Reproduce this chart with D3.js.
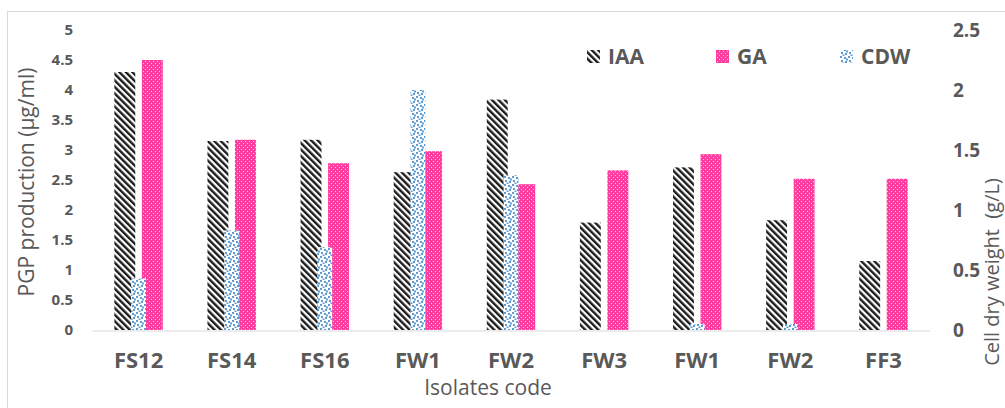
<!DOCTYPE html>
<html>
<head>
<meta charset="utf-8">
<script src="https://cdn.jsdelivr.net/npm/d3@7"></script>
<style>
  html, body { margin: 0; padding: 0; background: #fff; }
  svg { display: block; font-family: "Open Sans", "DejaVu Sans", sans-serif; }
</style>
</head>
<body>
<svg id="chart" width="1005" height="408"></svg>
<script>
const categories = ["FS12", "FS14", "FS16", "FW1", "FW2", "FW3", "FW1", "FW2", "FF3"];
const iaaValues = [4.3, 3.15, 3.17, 2.63, 3.84, 1.79, 2.71, 1.83, 1.15];
const gaValues  = [4.5, 3.17, 2.78, 2.98, 2.43, 2.66, 2.93, 2.52, 2.52];
const cdwValues = [0.43, 0.83, 0.69, 2.0, 1.29, 0, 0.05, 0.05, 0];
const leftTicks = [0, 0.5, 1, 1.5, 2, 2.5, 3, 3.5, 4, 4.5, 5];
const rightTicks = [0, 0.5, 1, 1.5, 2, 2.5];
const seriesNames = ["IAA", "GA", "CDW"];

const svg = d3.select("#chart");
const textColor = "#595959";

// chart frame
svg.append("rect").attr("x", 7.5).attr("y", 11.5).attr("width", 1100).attr("height", 500)
  .attr("fill", "none").attr("stroke", "#d9d9d9");

// patterns
const defs = svg.append("defs");
const pIAA = defs.append("pattern").attr("id", "pIAA").attr("patternUnits", "userSpaceOnUse")
  .attr("width", 4.6).attr("height", 4.6).attr("patternTransform", "rotate(-45)");
pIAA.append("rect").attr("width", 4.6).attr("height", 4.6).attr("fill", "#fff");
pIAA.append("rect").attr("width", 2.4).attr("height", 4.6).attr("fill", "#1c1c1c");

const pGA = defs.append("pattern").attr("id", "pGA").attr("patternUnits", "userSpaceOnUse")
  .attr("width", 4).attr("height", 4);
pGA.append("rect").attr("width", 4).attr("height", 4).attr("fill", "#ff3d9e");
pGA.append("rect").attr("x", 1).attr("y", 1).attr("width", 1).attr("height", 1).attr("fill", "#ffc2e0");
pGA.append("rect").attr("x", 3).attr("y", 3).attr("width", 1).attr("height", 1).attr("fill", "#ffc2e0");

const pCDW = defs.append("pattern").attr("id", "pCDW").attr("patternUnits", "userSpaceOnUse")
  .attr("width", 8).attr("height", 8);
pCDW.append("rect").attr("width", 8).attr("height", 8).attr("fill", "#fff");
[[0,0],[4,1],[1,4],[5,5],[6,2.5],[2.5,6.5]].forEach(([a,b]) =>
  pCDW.append("rect").attr("x", a).attr("y", b).attr("width", 2).attr("height", 2).attr("fill", "#5b9bd5"));

// scales
const idx = d3.range(categories.length);
const plotLeft = 92, plotRight = 930, plotTop = 30, plotBottom = 330;
const x0 = d3.scaleBand().domain(idx).range([plotLeft, plotRight]).paddingInner(0.48).paddingOuter(0.24);
const x1 = d3.scaleBand().domain(["IAA", "GA"]).range([0, x0.bandwidth()]).paddingInner(0.24);
const x2 = d3.scaleBand().domain(idx).range([plotLeft, plotRight]).paddingInner(0.84).paddingOuter(0.42);
const yL = d3.scaleLinear().domain([0, 5]).range([plotBottom, plotTop]);
const yR = d3.scaleLinear().domain([0, 2.5]).range([plotBottom, plotTop]);

// bars
svg.append("g").selectAll("rect").data(iaaValues).join("rect")
  .attr("x", (d, i) => x0(i) + x1("IAA")).attr("width", x1.bandwidth())
  .attr("y", d => yL(d)).attr("height", d => yL(0) - yL(d)).attr("fill", "url(#pIAA)");
svg.append("g").selectAll("rect").data(gaValues).join("rect")
  .attr("x", (d, i) => x0(i) + x1("GA")).attr("width", x1.bandwidth())
  .attr("y", d => yL(d)).attr("height", d => yL(0) - yL(d)).attr("fill", "url(#pGA)");
svg.append("g").selectAll("rect").data(cdwValues).join("rect")
  .attr("x", (d, i) => x2(i)).attr("width", x2.bandwidth())
  .attr("y", d => yR(d)).attr("height", d => yR(0) - yR(d)).attr("fill", "url(#pCDW)");

// bottom axis
const xAxis = svg.append("g").attr("transform", `translate(0,${plotBottom + 0.5})`)
  .call(d3.axisBottom(d3.scaleBand().domain(idx).range([plotLeft, plotRight]))
    .tickFormat(i => categories[i]).tickSize(0).tickPadding(22));
xAxis.select(".domain").attr("stroke", "#d9d9d9").attr("stroke-width", 1.2);
xAxis.selectAll("text").attr("fill", textColor).attr("font-size", 22).attr("font-weight", 700)
  .attr("font-family", "'Open Sans', sans-serif");

// left axis
const yAxisL = svg.append("g").attr("transform", `translate(${plotLeft},0)`)
  .call(d3.axisLeft(yL).tickValues(leftTicks).tickFormat(d3.format("")).tickSize(0).tickPadding(19));
yAxisL.select(".domain").remove();
yAxisL.selectAll("text").attr("fill", textColor).attr("font-size", 15).attr("font-weight", 700)
  .attr("font-family", "'Open Sans', sans-serif");

// right axis
const yAxisR = svg.append("g").attr("transform", `translate(${plotRight},0)`)
  .call(d3.axisRight(yR).tickValues(rightTicks).tickFormat(d3.format("")).tickSize(0).tickPadding(23));
yAxisR.select(".domain").remove();
yAxisR.selectAll("text").attr("fill", textColor).attr("font-size", 19).attr("font-weight", 700)
  .attr("font-family", "'Open Sans', sans-serif");

// axis titles
svg.append("text").attr("x", 488).attr("y", 395).attr("text-anchor", "middle")
  .attr("fill", textColor).attr("font-size", 21).text("Isolates code");
svg.append("text").attr("transform", "translate(34,182) rotate(-90)").attr("text-anchor", "middle")
  .attr("fill", textColor).attr("font-size", 21).text("PGP production (µg/ml)");
svg.append("text").attr("transform", "translate(999,272) rotate(-90)").attr("text-anchor", "middle")
  .attr("fill", textColor).attr("font-size", 20).style("white-space", "pre")
  .text("Cell dry weight  (g/L)");

// legend
const legendX = [587, 716, 840];
const legendFill = ["url(#pIAA)", "url(#pGA)", "url(#pCDW)"];
const lg = svg.append("g");
seriesNames.forEach((name, i) => {
  lg.append("rect").attr("x", legendX[i]).attr("y", 50).attr("width", 13).attr("height", 13)
    .attr("fill", legendFill[i]);
  lg.append("text").attr("x", legendX[i] + 21).attr("y", 63.5).attr("fill", textColor)
    .attr("font-size", 21).attr("font-weight", 700).text(name);
});
</script>
</body>
</html>
